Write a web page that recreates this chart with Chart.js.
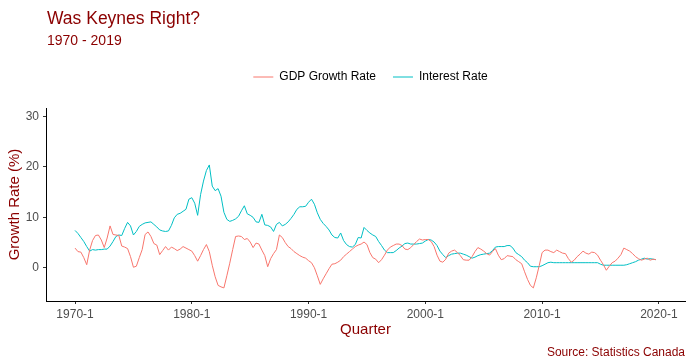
<!DOCTYPE html>
<html>
<head>
<meta charset="utf-8">
<script src="https://cdn.jsdelivr.net/npm/chart.js@4.4.0/dist/chart.umd.min.js"></script>
<style>
  html, body { margin: 0; padding: 0; background: #fff; }
</style>
</head>
<body>
<canvas id="grafico" width="693" height="364"></canvas>
<script>
// =========================================
// DATOS
// =========================================
const anioInicio = 1970;
const anioFin = 2019;

// tasa de crecimiento del PIB (%), trimestral 1970-1 .. 2019-4
const gdpGrowth = [
  3.9, 3.2, 3.1, 2.0, 0.6, 3.5, 5.4, 6.4, 6.5, 5.5,
  4.0, 5.9, 8.3, 6.6, 6.5, 6.4, 4.3, 4.1, 3.8, 2.2,
  0.1, 0.3, 2.0, 3.6, 6.6, 7.1, 6.2, 4.8, 4.5, 2.6,
  3.4, 4.2, 3.5, 4.1, 3.8, 3.4, 3.7, 4.2, 3.9, 3.6,
  3.3, 2.4, 1.3, 2.4, 3.6, 4.6, 3.2, 0.5, -1.8, -3.5,
  -3.8, -4.0, -1.6, 0.9, 3.6, 6.2, 6.3, 6.2, 5.6, 5.8,
  5.1, 4.0, 4.9, 4.7, 3.5, 2.4, 0.2, 1.8, 2.8, 3.6,
  6.5, 6.0, 5.0, 4.2, 3.8, 3.2, 2.8, 2.4, 2.1, 1.9,
  1.4, 1.0, 0.0, -1.6, -3.3, -2.2, -1.2, -0.2, 0.7, 0.8,
  1.1, 1.5, 2.2, 2.7, 3.2, 3.7, 4.2, 4.5, 4.7, 5.1,
  4.6, 3.0, 2.0, 1.7, 1.0, 1.6, 2.5, 3.5, 4.1, 4.4,
  4.7, 4.7, 4.4, 3.7, 3.6, 4.0, 4.6, 5.2, 5.7, 5.5,
  5.6, 5.6, 5.2, 4.2, 2.5, 1.3, 1.1, 1.7, 2.9, 3.3,
  3.5, 3.0, 2.4, 1.6, 1.5, 1.5, 2.2, 3.2, 4.0, 3.7,
  3.3, 2.8, 2.5, 3.2, 3.8, 2.5, 1.6, 1.8, 2.4, 2.3,
  2.2, 1.6, 1.2, 0.8, -0.8, -2.3, -3.5, -4.0, -2.0, 0.4,
  3.0, 3.5, 3.5, 3.2, 3.0, 3.5, 3.2, 2.9, 2.8, 1.8,
  1.1, 1.5, 2.2, 2.7, 3.3, 2.9, 2.7, 3.1, 3.0, 2.5,
  1.5, 0.6, -0.5, 0.3, 1.0, 1.3, 1.9, 2.6, 3.9, 3.6,
  3.3, 2.8, 2.2, 1.8, 1.5, 1.7, 1.9, 1.5, 1.7, 1.6
];

// tasa de interes (%)
const interestRate = [
  7.4, 6.8, 6.0, 5.2, 4.2, 3.3, 3.6, 3.5, 3.6, 3.6,
  3.7, 3.7, 4.3, 5.2, 6.2, 6.5, 6.4, 7.8, 9.0, 8.3,
  6.5, 7.2, 8.2, 8.6, 8.9, 9.0, 9.1, 8.6, 8.1, 7.5,
  7.3, 7.2, 7.3, 8.4, 9.9, 10.6, 10.8, 11.2, 11.6, 13.6,
  13.9, 12.8, 10.4, 14.5, 17.2, 19.3, 20.4, 16.2, 15.3, 15.7,
  14.2, 11.0, 9.6, 9.2, 9.4, 9.7, 10.2, 11.3, 12.3, 10.7,
  10.4, 10.0, 9.1, 9.0, 10.6, 8.5, 8.4, 8.1, 7.2, 8.6,
  9.0, 8.3, 8.6, 9.1, 9.8, 10.6, 11.6, 12.1, 12.1, 12.2,
  13.0, 13.6, 12.6, 10.9, 9.6, 8.8, 8.2, 7.5, 6.5, 6.0,
  5.9, 6.9, 5.4, 4.6, 4.2, 4.1, 4.6, 6.0, 5.9, 8.0,
  7.4, 6.9, 6.5, 6.2, 5.2, 4.4, 3.5, 3.0, 3.0, 3.0,
  3.4, 3.9, 4.3, 4.8, 4.9, 4.7, 4.7, 4.7, 4.8, 4.9,
  5.3, 5.6, 5.5, 5.1, 4.4, 3.3, 2.6, 2.0, 2.4, 2.7,
  2.8, 2.9, 2.9, 2.7, 2.5, 2.2, 1.9, 2.1, 2.4, 2.6,
  2.7, 2.8, 2.9, 3.4, 4.1, 4.2, 4.2, 4.2, 4.4, 4.4,
  3.9, 3.0, 2.6, 2.2, 1.5, 1.0, 0.3, 0.2, 0.2, 0.2,
  0.4, 0.7, 1.0, 1.1, 1.0, 1.0, 1.0, 1.0, 1.0, 1.0,
  1.0, 1.0, 1.0, 1.0, 1.0, 1.0, 1.0, 1.0, 1.0, 1.0,
  0.7, 0.5, 0.5, 0.5, 0.5, 0.5, 0.5, 0.5, 0.5, 0.6,
  0.8, 1.0, 1.2, 1.5, 1.7, 1.9, 1.7, 1.8, 1.7, 1.6
];

const xTickLabels = ['1970-1', '1980-1', '1990-1', '2000-1', '2010-1', '2020-1'];
const yTickValues = [0, 10, 20, 30];

const titulo = 'Was Keynes Right?';
const subtitulo = anioInicio + ' - ' + anioFin;
const fuente = 'Source: Statistics Canada';

// =========================================
// ESTILO
// =========================================
const FUENTE = '"Liberation Sans", Arial, sans-serif';
const rojoOscuro = '#8B0000';
const grisTexto = '#4D4D4D';

// posicion de un trimestre "1980-1" en el eje (0 = 1970-1)
function indiceTrimestre(etiqueta) {
  const [a, q] = etiqueta.split('-').map(Number);
  return (a - anioInicio) * 4 + (q - 1);
}

function aPuntos(serie) {
  return serie.map((v, i) => ({ x: i, y: v }));
}

// =========================================
// TEXTOS (titulo, subtitulo, fuente)
// =========================================
const textos = {
  id: 'textos',
  afterDraw(chart) {
    const ctx = chart.ctx;
    ctx.save();
    ctx.fillStyle = rojoOscuro;
    ctx.textBaseline = 'alphabetic';
    ctx.textAlign = 'left';
    ctx.font = '17.5px ' + FUENTE;
    ctx.fillText(titulo, 47, 24);
    ctx.font = '14px ' + FUENTE;
    ctx.fillText(subtitulo, 47, 45);
    ctx.textAlign = 'right';
    ctx.font = '12px ' + FUENTE;
    ctx.fillText(fuente, 685, 356);
    ctx.restore();
  }
};

// la leyenda va centrada sobre el panel, no sobre el lienzo
const LEG_DX = 28;
const LEG_DY = -15;
const moverLeyenda = {
  id: 'moverLeyenda',
  afterLayout(chart) {
    const l = chart.legend;
    if (!l) return;
    l.left += LEG_DX; l.right += LEG_DX;
    l.top += LEG_DY; l.bottom += LEG_DY;
  }
};

// =========================================
// GRAFICO
// =========================================
new Chart(document.getElementById('grafico'), {

  type: 'line',

  data: {
    datasets: [
      {
        label: 'GDP Growth Rate',
        data: aPuntos(gdpGrowth),
        borderColor: '#F8766D',
        backgroundColor: '#F8766D',
        borderWidth: 1,
        pointRadius: 0,
        tension: 0,
        fill: false
      },
      {
        label: 'Interest Rate',
        data: aPuntos(interestRate),
        borderColor: '#00BFC4',
        backgroundColor: '#00BFC4',
        borderWidth: 1,
        pointRadius: 0,
        tension: 0,
        fill: false
      }
    ]
  },

  options: {
    responsive: false,
    animation: false,
    layout: { padding: { top: 69, right: 8, bottom: 22, left: 0 } },
    plugins: {
      tooltip: { enabled: false },
      legend: {
        position: 'top',
        labels: {
          usePointStyle: true,
          pointStyle: 'line',
          pointStyleWidth: 20,
          padding: 17,
          color: '#000',
          font: { family: FUENTE, size: 12 }
        }
      }
    },
    scales: {
      x: {
        type: 'linear',
        min: -9.95,
        max: 208.95,
        afterFit: s => { s.height = 41; },
        afterBuildTicks: s => { s.ticks = xTickLabels.map(t => ({ value: indiceTrimestre(t) })); },
        ticks: {
          autoSkip: false,
          maxRotation: 0,
          padding: 3,
          color: grisTexto,
          font: { family: FUENTE, size: 12 },
          callback: v => xTickLabels.find(t => indiceTrimestre(t) === v)
        },
        grid: { drawOnChartArea: false, drawTicks: true, tickLength: 3, color: '#333' },
        border: { display: true, color: '#000', width: 1 },
        title: {
          display: true,
          text: 'Quarter',
          color: rojoOscuro,
          font: { family: FUENTE, size: 15 },
          padding: { top: 0, bottom: 3 }
        }
      },
      y: {
        min: -6.6,
        max: 31.7,
        afterFit: s => { s.width = 46; },
        afterBuildTicks: s => { s.ticks = yTickValues.map(v => ({ value: v })); },
        ticks: {
          padding: 4,
          color: grisTexto,
          font: { family: FUENTE, size: 12 }
        },
        grid: { drawOnChartArea: false, drawTicks: true, tickLength: 3, color: '#333' },
        border: { display: true, color: '#000', width: 1 },
        title: {
          display: true,
          text: 'Growth Rate (%)',
          color: rojoOscuro,
          font: { family: FUENTE, size: 15 },
          padding: { top: 6, bottom: 0 }
        }
      }
    }
  },

  plugins: [textos, moverLeyenda]

});
</script>
</body>
</html>
